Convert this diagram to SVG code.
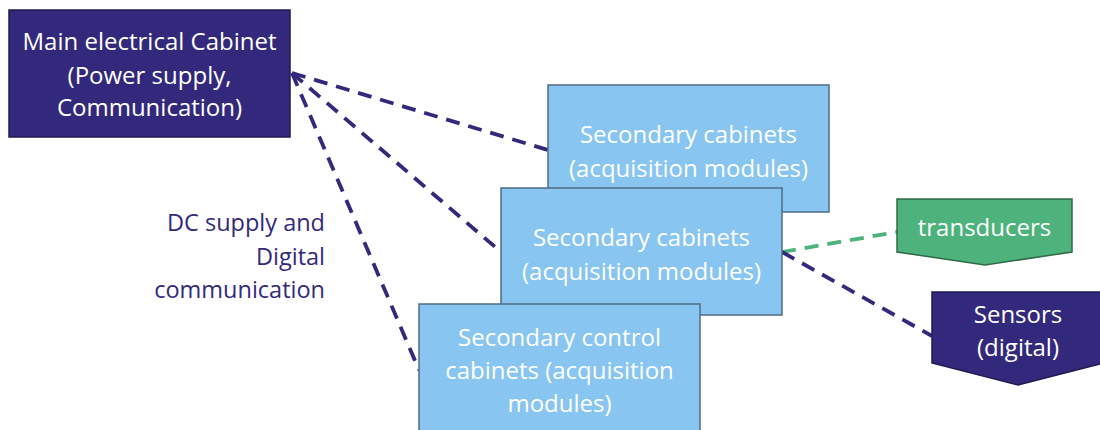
<svg xmlns="http://www.w3.org/2000/svg" width="1100" height="430" viewBox="0 0 1100 430">
<style>
.t{font-family:"Open Sans","Liberation Sans",sans-serif;font-size:24px;text-anchor:middle;fill:#ffffff}
.dark{fill:#33297c;stroke:#1f1a4f;stroke-width:1.5}
.light{fill:#88c5f0;stroke:#4f6c84;stroke-width:1.5}
.green{fill:#4db27b;stroke:#2e6b48;stroke-width:1.5}
.c{fill:none;stroke:#33297c;stroke-width:3.8;stroke-dasharray:14 9}
.cg{fill:none;stroke:#4db27b;stroke-width:3.8;stroke-dasharray:14 9}
.lbl{font-family:"Open Sans","Liberation Sans",sans-serif;font-size:23.5px;text-anchor:end;fill:#33297c}
</style>
<rect width="1100" height="430" fill="#ffffff"/>
<g id="main">
<rect class="dark" x="9" y="10" width="281" height="127"/>
<text class="t" x="149.5" y="50">Main electrical Cabinet</text>
<text class="t" x="149.5" y="84">(Power supply,</text>
<text class="t" x="149.5" y="116">Communication)</text>
</g>
<g id="connectors">
<line class="c" x1="292" y1="73" x2="548" y2="150"/>
<line class="c" x1="292" y1="73" x2="501" y2="252"/>
<line class="c" x1="292" y1="73" x2="419" y2="370"/>
<line class="cg" x1="782" y1="252" x2="897" y2="232"/>
<line class="c" x1="782" y1="252" x2="932" y2="336"/>
</g>
<g id="sec1">
<rect class="light" x="548" y="85" width="281" height="127"/>
<text class="t" x="688.5" y="143">Secondary cabinets</text>
<text class="t" x="688.5" y="177">(acquisition modules)</text>
</g>
<g id="sec2">
<rect class="light" x="501" y="188" width="281" height="127"/>
<text class="t" x="641.5" y="246">Secondary cabinets</text>
<text class="t" x="641.5" y="280">(acquisition modules)</text>
</g>
<g id="ctrl">
<rect class="light" x="419" y="304" width="281" height="140"/>
<text class="t" x="559.5" y="346">Secondary control</text>
<text class="t" x="559.5" y="379">cabinets (acquisition</text>
<text class="t" x="559.5" y="412">modules)</text>
</g>
<g id="transducers">
<polygon class="green" points="897,199 1072,199 1072,252 985,265 897,252"/>
<text class="t" x="984.5" y="236">transducers</text>
</g>
<g id="sensors">
<polygon class="dark" points="932,292 1104,292 1104,363 1018,385 932,363"/>
<text class="t" x="1018" y="323">Sensors</text>
<text class="t" x="1018" y="356">(digital)</text>
</g>
<g id="label">
<text class="lbl" x="325" y="231">DC supply and</text>
<text class="lbl" x="325" y="265">Digital</text>
<text class="lbl" x="325" y="298">communication</text>
</g>
</svg>
